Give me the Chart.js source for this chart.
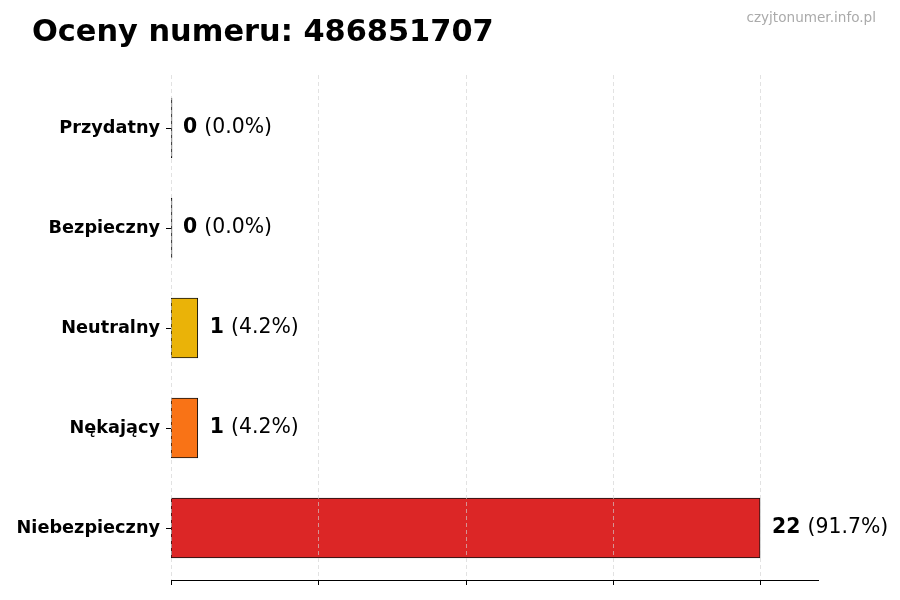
<!DOCTYPE html>
<html>
<head>
<meta charset="utf-8">
<script src="https://cdn.jsdelivr.net/npm/chart.js@4/dist/chart.umd.min.js"></script>
<style>
  body { margin: 0; background: #fff; }
  #wrap { width: 900px; height: 600px; }
</style>
</head>
<body>
<div id="wrap"><canvas id="ratingChart" width="900" height="600"></canvas></div>
<script>
// data
var categories = ['Przydatny', 'Bezpieczny', 'Neutralny', 'Nękający', 'Niebezpieczny'];
var counts = [0, 0, 1, 1, 22];
var percentLabels = ['(0.0%)', '(0.0%)', '(4.2%)', '(4.2%)', '(91.7%)'];
var barColors = ['#22c55e', '#3b82f6', '#eab308', '#f97316', '#dc2626'];
var xTicks = [0, 5.5, 11, 16.5, 22];
var xMax = 24.2;

var titleText = 'Oceny numeru: 486851707';
var siteText = 'czyjtonumer.info.pl';
var fontName = '"DejaVu Sans", sans-serif';

// title + watermark
var headerPlugin = {
  id: 'header',
  afterDraw: function(chart) {
    var ctx = chart.ctx;
    ctx.save();
    ctx.textBaseline = 'alphabetic';
    ctx.fillStyle = '#000';
    ctx.textAlign = 'left';
    ctx.font = 'bold 30.4px ' + fontName;
    ctx.fillText(titleText, 32, 41);
    ctx.fillStyle = '#aaaaaa';
    ctx.textAlign = 'right';
    ctx.font = '13.6px ' + fontName;
    ctx.fillText(siteText, 876, 22);
    ctx.restore();
  }
};

// dashed vertical grid over the bars, plus the bottom axis line and ticks
var gridPlugin = {
  id: 'dashGrid',
  afterDatasetsDraw: function(chart) {
    var ctx = chart.ctx;
    var x = chart.scales.x;
    var area = chart.chartArea;
    var top = area.top - 3;
    var bottom = area.bottom + 2;
    ctx.save();
    ctx.strokeStyle = 'rgba(210,210,210,0.8)';
    ctx.lineWidth = 0.8;
    ctx.setLineDash([4, 3]);
    xTicks.forEach(function(v) {
      var px = Math.round(x.getPixelForValue(v)) + 0.5;
      ctx.beginPath();
      ctx.moveTo(px, top);
      ctx.lineTo(px, bottom);
      ctx.stroke();
    });
    ctx.setLineDash([]);
    ctx.strokeStyle = '#000';
    ctx.lineWidth = 1;
    ctx.beginPath();
    ctx.moveTo(area.left, bottom + 0.5);
    ctx.lineTo(area.right, bottom + 0.5);
    xTicks.forEach(function(v) {
      var px = Math.round(x.getPixelForValue(v)) + 0.5;
      ctx.moveTo(px, bottom);
      ctx.lineTo(px, bottom + 5);
    });
    ctx.stroke();
    ctx.restore();
  }
};

// "22 (91.7%)" labels next to bars
var valuePlugin = {
  id: 'values',
  afterDatasetsDraw: function(chart) {
    var ctx = chart.ctx;
    var x = chart.scales.x;
    var meta = chart.getDatasetMeta(0);
    ctx.save();
    ctx.textBaseline = 'middle';
    ctx.textAlign = 'left';
    ctx.fillStyle = '#000';
    meta.data.forEach(function(bar, i) {
      var px = x.getPixelForValue(counts[i]) + 12;
      var num = String(counts[i]);
      ctx.font = 'bold 20.4px ' + fontName;
      ctx.fillText(num, px, bar.y);
      var w = ctx.measureText(num + ' ').width;
      ctx.font = '20.4px ' + fontName;
      ctx.fillText(percentLabels[i], px + w, bar.y);
    });
    ctx.restore();
  }
};

var myChart = document.getElementById('ratingChart');

var myBarChart = new Chart(myChart, {
  type: 'bar',
  data: {
    labels: categories,
    datasets: [
      {
        data: counts,
        // an empty bar only shows its black edge
        backgroundColor: counts.map(function(c, i) { return c === 0 ? '#111' : barColors[i]; }),
        borderColor: '#111',
        borderWidth: 1,
        borderSkipped: false,
        minBarLength: 1,
        barThickness: 60
      }
    ]
  },
  options: {
    indexAxis: 'y',
    responsive: false,
    animation: false,
    devicePixelRatio: 1,
    layout: { padding: { top: 78, right: 81, bottom: 0, left: 0 } },
    plugins: {
      legend: { display: false },
      tooltip: { enabled: false },
      title: { display: false }
    },
    scales: {
      x: {
        min: 0,
        max: xMax,
        afterBuildTicks: function(scale) {
          scale.ticks = xTicks.map(function(v) { return { value: v }; });
        },
        afterFit: function(scale) { scale.height = 22; },
        ticks: { display: false },
        grid: { display: false },
        border: { display: false }
      },
      y: {
        afterFit: function(scale) { scale.width = 171; },
        ticks: {
          color: '#000',
          padding: 6,
          font: { family: fontName, size: 17.7, weight: 'bold' }
        },
        grid: { drawOnChartArea: false, drawTicks: true, tickLength: 5, color: '#000', lineWidth: 1, offset: false },
        border: { display: false }
      }
    }
  },
  plugins: [gridPlugin, valuePlugin, headerPlugin]
});
</script>
</body>
</html>
